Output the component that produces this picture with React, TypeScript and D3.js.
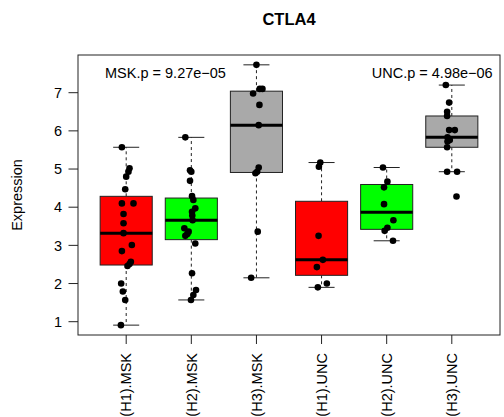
import React from "react";
import * as d3 from "d3";

const categories = ["(H1).MSK", "(H2).MSK", "(H3).MSK", "(H1).UNC", "(H2).UNC", "(H3).UNC"];
const boxColors = ["#FF0000", "#00FF00", "#A9A9A9", "#FF0000", "#00FF00", "#A9A9A9"];

const h1Msk = [5.57, 5.02, 4.93, 4.8, 4.47, 4.1, 4.1, 3.82, 3.58, 3.32, 3.01, 2.85, 2.57, 2.51, 2.46, 2.0, 1.79, 1.57, 0.91];
const h1MskJitter = [-0.066, 0.051, 0.035, 0, -0.015, -0.066, 0.112, -0.041, -0.041, -0.041, 0.087, -0.066, 0.072, 0.051, 0.02, -0.077, -0.051, -0.015, -0.081];

const h2Msk = [5.83, 4.97, 4.93, 4.69, 4.29, 4.19, 3.97, 3.88, 3.78, 3.66, 3.45, 3.36, 3.3, 3.25, 3.05, 2.27, 1.83, 1.7, 1.57];
const h2MskJitter = [-0.092, -0.02, 0, -0.02, 0.011, 0.031, 0.061, 0.011, 0.015, 0.02, -0.107, -0.041, -0.061, -0.092, 0.061, 0.011, 0.072, 0.031, -0.005];

const h3Msk = [7.73, 7.1, 7.1, 6.98, 6.68, 6.15, 5.04, 4.93, 4.89, 3.36, 2.15];
const h3MskJitter = [0, 0.051, 0.092, -0.051, 0.046, 0.035, 0.035, 0.011, -0.015, 0.02, -0.081];

const h1Unc = [5.17, 5.06, 3.25, 2.62, 2.43, 2.0, 1.9];
const h1UncJitter = [-0.02, -0.041, -0.046, 0.02, -0.072, 0.081, -0.057];

const h2Unc = [5.04, 4.67, 4.52, 4.08, 3.66, 3.46, 3.38, 3.12];
const h2UncJitter = [-0.057, 0.011, -0.041, -0.041, 0.103, 0.011, -0.031, 0.097];

const h3Unc = [7.2, 6.74, 6.5, 6.39, 6.02, 6.02, 5.83, 5.76, 5.72, 5.57, 4.93, 4.93, 4.28];
const h3UncJitter = [-0.092, -0.041, -0.072, -0.072, -0.041, 0.046, -0.066, -0.031, -0.066, -0.072, -0.072, 0.081, 0.072];

const yTicks = [1, 2, 3, 4, 5, 6, 7];
const title = "CTLA4";
const yLabel = "Expression";
const mskP = "MSK.p = 9.27e\u221205";
const uncP = "UNC.p = 4.98e\u221206";

const groups = [h1Msk, h2Msk, h3Msk, h1Unc, h2Unc, h3Unc];
const jitters = [h1MskJitter, h2MskJitter, h3MskJitter, h1UncJitter, h2UncJitter, h3UncJitter];

function fivenum(vals: number[]) {
  const s = [...vals].sort((a, b) => a - b);
  const n = s.length;
  const n4 = Math.floor((n + 3) / 2) / 2;
  const idx = [1, n4, (n + 1) / 2, n + 1 - n4, n];
  return idx.map((i) => 0.5 * (s[Math.floor(i) - 1] + s[Math.ceil(i) - 1]));
}

function boxStats(vals: number[]) {
  const [, q1, med, q3] = fivenum(vals);
  const iqr = q3 - q1;
  const lo = q1 - 1.5 * iqr;
  const hi = q3 + 1.5 * iqr;
  const inside = vals.filter((v) => v >= lo && v <= hi);
  return { q1, med, q3, wlo: d3.min(inside)!, whi: d3.max(inside)! };
}

const FONT = "'Liberation Sans', Arial, Helvetica, sans-serif";

export default function App() {
  const W = 504;
  const H = 417;
  const left = 78, right = 500, top = 55, bottom = 335;
  const x = d3.scaleLinear().domain([0.26, 6.74]).range([left, right]);
  const y = d3.scaleLinear().domain([1, 7]).range([321.7, 92.7]);
  const unit = x(1) - x(0);
  const bw = 0.8 * unit;
  const sw = 0.5 * bw;

  return (
    <svg width={W} height={H} style={{ position: "fixed", left: 0, top: 0, background: "#fff" }} fontFamily={FONT}>
      <rect x={0} y={0} width={W} height={H} fill="#fff" />
      <text x={(left + right) / 2} y={25} textAnchor="middle" fontWeight="bold" fontSize={16.5} fill="#000">
        {title}
      </text>

      {groups.map((vals, i) => {
        const st = boxStats(vals);
        const cx = x(i + 1);
        return (
          <g key={"b" + i}>
            <line x1={cx} x2={cx} y1={y(st.q3)} y2={y(st.whi)} stroke="#222" strokeDasharray="3,3" />
            <line x1={cx} x2={cx} y1={y(st.q1)} y2={y(st.wlo)} stroke="#222" strokeDasharray="3,3" />
            <line x1={cx - sw / 2} x2={cx + sw / 2} y1={y(st.whi)} y2={y(st.whi)} stroke="#222" />
            <line x1={cx - sw / 2} x2={cx + sw / 2} y1={y(st.wlo)} y2={y(st.wlo)} stroke="#222" />
            <rect x={cx - bw / 2} y={y(st.q3)} width={bw} height={y(st.q1) - y(st.q3)} fill={boxColors[i]} stroke="#222" />
            <line x1={cx - bw / 2} x2={cx + bw / 2} y1={y(st.med)} y2={y(st.med)} stroke="#000" strokeWidth={3} />
          </g>
        );
      })}

      {groups.map((vals, i) => (
        <g key={"p" + i}>
          {vals.map((v, j) => (
            <circle key={j} cx={x(i + 1 + jitters[i][j])} cy={y(v)} r={3.3} fill="#000" />
          ))}
        </g>
      ))}

      <rect x={left} y={top} width={right - left} height={bottom - top} fill="none" stroke="#222" />

      {yTicks.map((t) => (
        <g key={"y" + t}>
          <line x1={left - 9.5} x2={left} y1={y(t)} y2={y(t)} stroke="#222" />
          <text x={62} y={y(t)} dy="0.36em" textAnchor="end" fontSize={14.5} fill="#000">
            {t}
          </text>
        </g>
      ))}
      <text transform={`translate(22,${(top + bottom) / 2}) rotate(-90)`} textAnchor="middle" fontSize={14.5} fill="#000">
        {yLabel}
      </text>

      {categories.map((c, i) => {
        const cx = x(i + 1);
        return (
          <g key={"x" + i}>
            <line x1={cx} x2={cx} y1={bottom} y2={bottom + 9} stroke="#222" />
            <text transform={`translate(${cx},353) rotate(-90)`} dy="0.36em" textAnchor="end" fontSize={14.5} fill="#000">
              {c}
            </text>
          </g>
        );
      })}

      <text x={105} y={78} fontSize={14.5} fill="#000">{mskP}</text>
      <text x={492.7} y={78} textAnchor="end" fontSize={14.5} fill="#000">{uncP}</text>
    </svg>
  );
}
